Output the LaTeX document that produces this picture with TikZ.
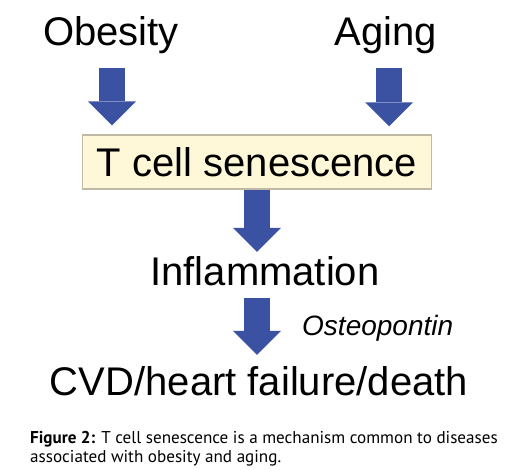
\documentclass[tikz,border=0pt]{standalone}
\usepackage{fontspec}
\usepackage{tikz}
\usetikzlibrary{arrows.meta}
\newfontfamily\figfont{Liberation Sans}
\newfontfamily\capfont{PT Sans}
\definecolor{arrowblue}{RGB}{59,82,163}
\definecolor{boxfill}{RGB}{255,248,216}
\definecolor{boxedge}{RGB}{190,186,166}

\begin{document}
\begin{tikzpicture}[x=1pt,y=-1pt,
    word/.style={inner sep=0pt,font=\figfont\fontsize{40}{48}\selectfont},
    bigarrow/.style={arrowblue,line width=26pt,
      -{Triangle[width=48pt,length=24pt,line width=0pt]}}]
    \useasboundingbox (0,0) rectangle (508,469);
    \node[word,anchor=base] (obesity) at (111,45) {Obesity};
    \node[word,anchor=base] (aging) at (385.5,45) {Aging};
    \node[word,draw=boxedge,line width=1.5pt,fill=boxfill,minimum width=349pt,minimum height=54pt]
      (tcell) at (257,162) {T cell senescence};
    \node[word,anchor=base] (infl) at (265,285) {Inflammation};
    \node[word,anchor=base] (cvd) at (259,395) {CVD/heart failure/death};
    \node[inner sep=0pt,anchor=base west,font=\figfont\itshape\fontsize{28}{34}\selectfont]
      (osteo) at (302,335) {Osteopontin};
    \draw[bigarrow,shorten <=14.5pt,shorten >=9pt] ([xshift=1pt]obesity.south) -- ([xshift=1pt]obesity.south |- tcell.north);
    \draw[bigarrow,shorten <=14.5pt,shorten >=8pt] ([xshift=3.5pt]aging.south) -- ([xshift=3.5pt]aging.south |- tcell.north);
    \draw[bigarrow,shorten >=4pt] (tcell.south) -- (tcell.south |- infl.north);
    \draw[bigarrow,shorten <=12pt,shorten >=11pt] (tcell.south |- infl.south) -- (tcell.south |- cvd.north);
    % caption: base anchor sits on the last line
    \node[inner sep=0pt,anchor=base west,align=left,font=\capfont\fontsize{17.1}{19}\selectfont]
      (caption) at (30,462) {\textbf{Figure 2:} T cell senescence is a mechanism common to diseases\\associated with obesity and aging.};
  \end{tikzpicture}
\end{document}
